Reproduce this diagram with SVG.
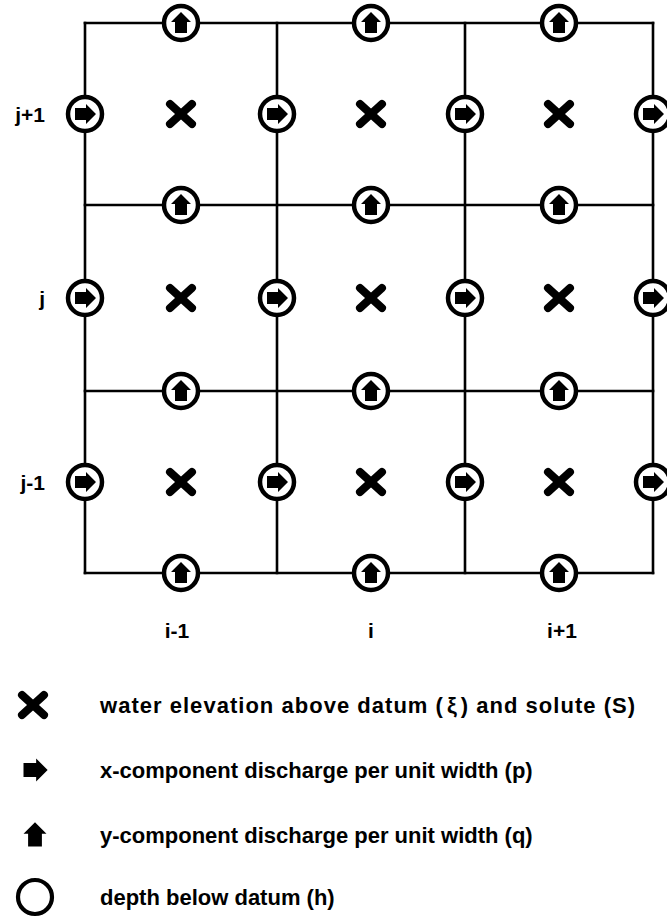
<svg xmlns="http://www.w3.org/2000/svg" width="667" height="921" viewBox="0 0 667 921">
  <style>
    .grid { stroke: #000; stroke-width: 2.6; fill: none; stroke-linecap: square; }
    .ring { fill: #fff; stroke: #000; stroke-width: 4.5; }
    .ring-legend { fill: none; stroke: #000; stroke-width: 4.2; }
    .arrow { fill: #000; }
    .cross { stroke: #000; stroke-width: 8; stroke-linecap: round; }
    .lbl { font-family: "Liberation Sans", Arial, sans-serif; font-weight: bold; font-size: 21px; fill: #000; }
    .leg { font-family: "Liberation Sans", Arial, sans-serif; font-weight: bold; font-size: 22px; fill: #000; }
  </style>
  <defs>
    <!-- block arrow pointing up, centred on the origin -->
    <polygon id="arrow-up" class="arrow" points="0,-11 10,-1 6,-1 6,10 -6,10 -6,-1 -10,-1"/>
    <!-- same arrow turned to point in +x -->
    <use id="arrow-right" href="#arrow-up" transform="rotate(90)"/>
    <!-- node carrying y-discharge q -->
    <g id="q-node">
      <circle class="ring" r="17"/>
      <use href="#arrow-up"/>
    </g>
    <!-- node carrying x-discharge p -->
    <g id="p-node">
      <circle class="ring" r="17"/>
      <use href="#arrow-right"/>
    </g>
    <!-- cell-centre mark for water level and solute -->
    <g id="cross">
      <line class="cross" x1="-11" y1="-10" x2="11" y2="10"/>
      <line class="cross" x1="-11" y1="10" x2="11" y2="-10"/>
    </g>
  </defs>

  <rect width="667" height="921" fill="#fff"/>

  <!-- cell boundaries -->
  <g id="connectors">
    <line class="grid" x1="85" y1="23" x2="653" y2="23"/>
    <line class="grid" x1="85" y1="205" x2="653" y2="205"/>
    <line class="grid" x1="85" y1="391" x2="653" y2="391"/>
    <line class="grid" x1="85" y1="573" x2="653" y2="573"/>
    <line class="grid" x1="85" y1="23" x2="85" y2="573"/>
    <line class="grid" x1="277" y1="23" x2="277" y2="573"/>
    <line class="grid" x1="465" y1="23" x2="465" y2="573"/>
    <line class="grid" x1="653" y1="23" x2="653" y2="573"/>
  </g>

  <!-- q nodes on horizontal faces -->
  <g id="q-r0-c0"><use href="#q-node" x="181" y="23"/></g>
  <g id="q-r0-c1"><use href="#q-node" x="371" y="23"/></g>
  <g id="q-r0-c2"><use href="#q-node" x="559" y="23"/></g>
  <g id="q-r1-c0"><use href="#q-node" x="181" y="205"/></g>
  <g id="q-r1-c1"><use href="#q-node" x="371" y="205"/></g>
  <g id="q-r1-c2"><use href="#q-node" x="559" y="205"/></g>
  <g id="q-r2-c0"><use href="#q-node" x="181" y="391"/></g>
  <g id="q-r2-c1"><use href="#q-node" x="371" y="391"/></g>
  <g id="q-r2-c2"><use href="#q-node" x="559" y="391"/></g>
  <g id="q-r3-c0"><use href="#q-node" x="181" y="573"/></g>
  <g id="q-r3-c1"><use href="#q-node" x="371" y="573"/></g>
  <g id="q-r3-c2"><use href="#q-node" x="559" y="573"/></g>

  <!-- p nodes on vertical faces -->
  <g id="p-r0-c0"><use href="#p-node" x="85" y="114"/></g>
  <g id="p-r0-c1"><use href="#p-node" x="277" y="114"/></g>
  <g id="p-r0-c2"><use href="#p-node" x="465" y="114"/></g>
  <g id="p-r0-c3"><use href="#p-node" x="653" y="114"/></g>
  <g id="p-r1-c0"><use href="#p-node" x="85" y="298"/></g>
  <g id="p-r1-c1"><use href="#p-node" x="277" y="298"/></g>
  <g id="p-r1-c2"><use href="#p-node" x="465" y="298"/></g>
  <g id="p-r1-c3"><use href="#p-node" x="653" y="298"/></g>
  <g id="p-r2-c0"><use href="#p-node" x="85" y="482"/></g>
  <g id="p-r2-c1"><use href="#p-node" x="277" y="482"/></g>
  <g id="p-r2-c2"><use href="#p-node" x="465" y="482"/></g>
  <g id="p-r2-c3"><use href="#p-node" x="653" y="482"/></g>

  <!-- cell centres -->
  <g id="xi-r0-c0"><use href="#cross" x="181" y="114"/></g>
  <g id="xi-r0-c1"><use href="#cross" x="371" y="114"/></g>
  <g id="xi-r0-c2"><use href="#cross" x="559" y="114"/></g>
  <g id="xi-r1-c0"><use href="#cross" x="181" y="298"/></g>
  <g id="xi-r1-c1"><use href="#cross" x="371" y="298"/></g>
  <g id="xi-r1-c2"><use href="#cross" x="559" y="298"/></g>
  <g id="xi-r2-c0"><use href="#cross" x="181" y="482"/></g>
  <g id="xi-r2-c1"><use href="#cross" x="371" y="482"/></g>
  <g id="xi-r2-c2"><use href="#cross" x="559" y="482"/></g>

  <!-- row and column indices -->
  <g id="row-labels">
    <text class="lbl" x="45" y="122" text-anchor="end">j+1</text>
    <text class="lbl" x="45" y="306" text-anchor="end">j</text>
    <text class="lbl" x="45" y="490" text-anchor="end">j-1</text>
  </g>
  <g id="col-labels">
    <text class="lbl" x="177" y="638" text-anchor="middle">i-1</text>
    <text class="lbl" x="371" y="638" text-anchor="middle">i</text>
    <text class="lbl" x="562" y="638" text-anchor="middle">i+1</text>
  </g>

  <!-- key -->
  <g id="legend">
    <g id="legend-xi">
      <use href="#cross" x="33" y="705"/>
      <text class="leg" x="100" y="713" textLength="535">water elevation above datum (<tspan dx="3">ξ</tspan><tspan dx="3">)</tspan> and solute (S)</text>
    </g>
    <g id="legend-p">
      <use href="#arrow-right" transform="translate(35 770) scale(1.15)"/>
      <text class="leg" x="100" y="778">x-component discharge per unit width (p)</text>
    </g>
    <g id="legend-q">
      <use href="#arrow-up" transform="translate(35 835) scale(1.15)"/>
      <text class="leg" x="100" y="843">y-component discharge per unit width (q)</text>
    </g>
    <g id="legend-h">
      <circle class="ring-legend" cx="35" cy="897" r="17"/>
      <text class="leg" x="100" y="905">depth below datum (h)</text>
    </g>
  </g>
</svg>
